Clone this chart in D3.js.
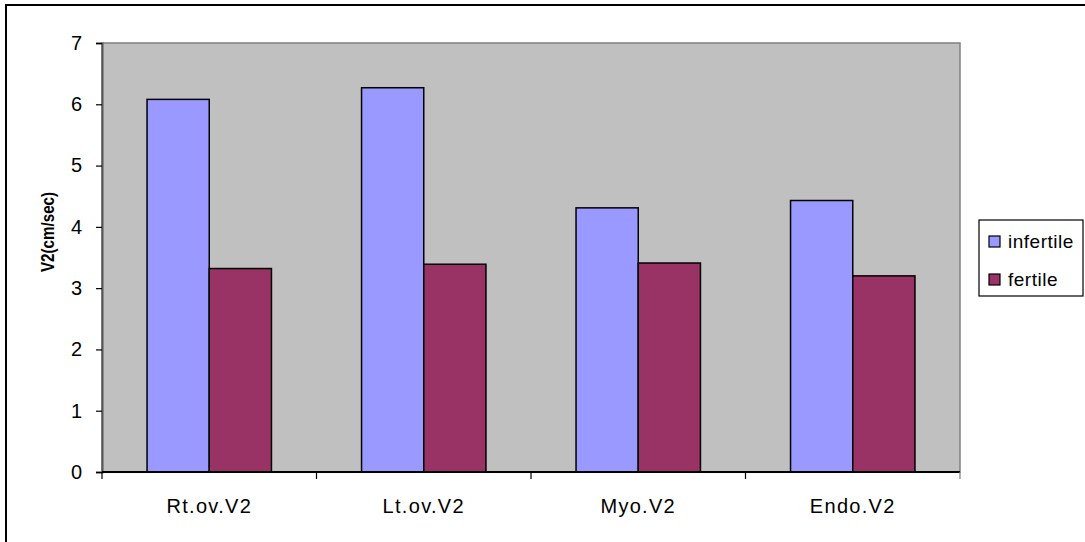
<!DOCTYPE html>
<html>
<head>
<meta charset="utf-8">
<script src="https://cdn.jsdelivr.net/npm/d3@7"></script>
<style>
  html, body { margin: 0; padding: 0; background: #fff; }
  svg { display: block; font-family: "Liberation Sans", Arial, sans-serif; }
</style>
</head>
<body>
<svg id="chart" width="1085" height="542"></svg>
<script>
// Mean V2 velocity per site, infertile vs fertile groups
const categories = ["Rt.ov.V2", "Lt.ov.V2", "Myo.V2", "Endo.V2"];
const seriesNames = ["infertile", "fertile"];
const infertile = [6.08, 6.27, 4.31, 4.43];
const fertile = [3.32, 3.39, 3.41, 3.20];
const yTicks = [0, 1, 2, 3, 4, 5, 6, 7];
const colors = ["#9999FF", "#993366"];

const svg = d3.select("#chart");

// outer chart frame
svg.append("rect")
  .attr("x", 6).attr("y", 5)
  .attr("width", 1100).attr("height", 560)
  .attr("fill", "#fff").attr("stroke", "#000").attr("stroke-width", 2);

const plot = { left: 102, top: 43, right: 960, bottom: 472 };

const x0 = d3.scaleBand()
  .domain(categories)
  .range([plot.left, plot.right])
  .paddingInner(0.42)
  .paddingOuter(0.21);

const x1 = d3.scaleBand()
  .domain(seriesNames)
  .range([0, x0.bandwidth()]);

const y = d3.scaleLinear()
  .domain([0, 7])
  .range([plot.bottom, plot.top]);

// plot background
svg.append("rect")
  .attr("x", plot.left).attr("y", plot.top)
  .attr("width", plot.right - plot.left).attr("height", plot.bottom - plot.top)
  .attr("fill", "#C0C0C0")
  .attr("stroke", "#808080").attr("stroke-width", 1.5);

// bars
const rows = categories.map((c, i) => ({ cat: c, values: [infertile[i], fertile[i]] }));
const groups = svg.append("g").selectAll("g")
  .data(rows)
  .join("g")
  .attr("transform", d => `translate(${x0(d.cat)},0)`);

groups.selectAll("rect")
  .data(d => d.values.map((v, j) => ({ key: seriesNames[j], v, j })))
  .join("rect")
  .attr("x", d => x1(d.key))
  .attr("y", d => y(d.v))
  .attr("width", x1.bandwidth())
  .attr("height", d => y(0) - y(d.v))
  .attr("fill", d => colors[d.j])
  .attr("stroke", "#000")
  .attr("stroke-width", 1.5);

// y axis
const yAxis = svg.append("g")
  .attr("transform", `translate(${plot.left},0)`)
  .call(d3.axisLeft(y).tickValues(yTicks).tickFormat(d3.format("d")).tickSize(6).tickPadding(14));
yAxis.select(".domain").attr("stroke", "#555").attr("stroke-width", 2);
yAxis.selectAll(".tick line").attr("stroke", "#000").attr("stroke-width", 1.2);
yAxis.selectAll("text")
  .attr("font-size", 20).attr("fill", "#000")
  .attr("font-family", "Liberation Sans, Arial, sans-serif");

// x axis: ticks at category boundaries
const xAxisG = svg.append("g").attr("transform", `translate(0,${plot.bottom})`);
xAxisG.append("line")
  .attr("x1", plot.left).attr("x2", plot.right)
  .attr("stroke", "#000").attr("stroke-width", 2);
const bounds = d3.range(categories.length + 1).map(i => plot.left + i * (plot.right - plot.left) / categories.length);
xAxisG.selectAll("line.tk")
  .data(bounds)
  .join("line")
  .attr("class", "tk")
  .attr("x1", d => d).attr("x2", d => d)
  .attr("y1", 0).attr("y2", 7)
  .attr("stroke", (d, i) => i === bounds.length - 1 ? "#808080" : "#000")
  .attr("stroke-width", 1.2);
xAxisG.selectAll("text")
  .data(categories)
  .join("text")
  .attr("x", d => x0(d) + x0.bandwidth() / 2)
  .attr("y", 41)
  .attr("text-anchor", "middle")
  .attr("font-size", 20)
  .style("letter-spacing", "1.3px")
  .text(d => d);

// y axis title (slightly condensed along its length)
svg.append("text")
  .attr("transform", `translate(54,232) rotate(-90) scale(0.8,1)`)
  .attr("text-anchor", "middle")
  .attr("font-size", 19)
  .attr("font-weight", "bold")
  .text("V2(cm/sec)");

// legend
const legend = svg.append("g");
legend.append("rect")
  .attr("x", 979).attr("y", 220)
  .attr("width", 104).attr("height", 76)
  .attr("fill", "#fff").attr("stroke", "#000").attr("stroke-width", 1.2);
const items = legend.selectAll("g.item")
  .data(seriesNames)
  .join("g")
  .attr("class", "item")
  .attr("transform", (d, i) => `translate(989,${236 + i * 38})`);
items.append("rect")
  .attr("width", 11).attr("height", 11)
  .attr("fill", (d, i) => colors[i])
  .attr("stroke", "#000").attr("stroke-width", 1.2);
items.append("text")
  .attr("x", 19).attr("y", 12)
  .attr("font-size", 19)
  .style("letter-spacing", "0.5px")
  .text(d => d);
</script>
</body>
</html>
